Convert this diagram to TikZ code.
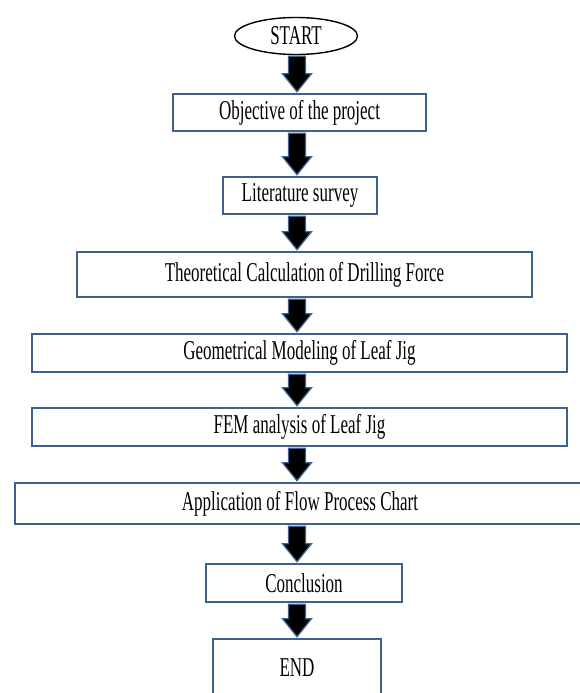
\documentclass[tikz,border=0pt]{standalone}
\usepackage{fontspec}
\setmainfont{Liberation Serif}
\usepackage{graphicx}
\usetikzlibrary{calc,shapes.geometric}

\definecolor{boxblue}{RGB}{62,98,143}
\newcommand{\tall}[1]{\scalebox{1}[1.6]{#1}}
% block arrow between two nodes, on the common axis
\newcommand{\flowarrow}[2]{%
  \draw[blockarrow] let \p1=(axis), \p2=(#1.south), \p3=(#2.north) in
    (\x1-8.5pt,\y2-1pt) -- (\x1+8.5pt,\y2-1pt) -- (\x1+8.5pt,\y3+19pt)
    -- (\x1+14.5pt,\y3+19pt) -- (\x1,\y3+1pt) -- (\x1-14.5pt,\y3+19pt)
    -- (\x1-8.5pt,\y3+19pt) -- cycle;}

\tikzset{
  box/.style={draw=boxblue, line width=2.6pt, rectangle, inner sep=0pt,
    font=\fontsize{17}{20}\selectfont},
  startend/.style={draw=black, line width=1.4pt, ellipse, inner sep=0pt,
    font=\fontsize{17}{20}\selectfont},
  blockarrow/.style={fill=black, draw=boxblue, line width=1.3pt, line join=miter}
}

\begin{document}
\begin{tikzpicture}[x=1pt, y=1pt]
				\useasboundingbox (0,0) rectangle (580,-693);
				\coordinate (axis) at (297,0);
				
				\node[startend, minimum width=123pt, minimum height=37pt] (start) at (296,-36) {\tall{START}};
				\node[box, minimum width=253pt, minimum height=37pt] (obj) at (299.5,-112.5) {\tall{Objective of the project}};
				\node[box, minimum width=154pt, minimum height=37pt] (lit) at (300,-195.5) {\tall{Literature survey}};
				\node[box, minimum width=455pt, minimum height=45pt] (theo) at (304.5,-274.5) {\tall{Theoretical Calculation of Drilling Force}};
				\node[box, minimum width=535pt, minimum height=38pt] (geom) at (299.5,-353) {\tall{Geometrical Modeling of Leaf Jig}};
				\node[box, minimum width=535pt, minimum height=38pt] (fem) at (299.5,-427) {\tall{FEM analysis of Leaf Jig}};
				\node[box, minimum width=570pt, minimum height=41pt] (app) at (300,-503.5) {\tall{Application of Flow Process Chart}};
				\node[box, minimum width=196pt, minimum height=38pt] (concl) at (304,-583) {\tall{Conclusion}};
				\node[box, minimum width=168pt, minimum height=58pt] (end) at (297,-668) {\tall{END}};
				
				\flowarrow{start}{obj}
				\flowarrow{obj}{lit}
				\flowarrow{lit}{theo}
				\flowarrow{theo}{geom}
				\flowarrow{geom}{fem}
				\flowarrow{fem}{app}
				\flowarrow{app}{concl}
				\flowarrow{concl}{end}
			\end{tikzpicture}
\end{document}
